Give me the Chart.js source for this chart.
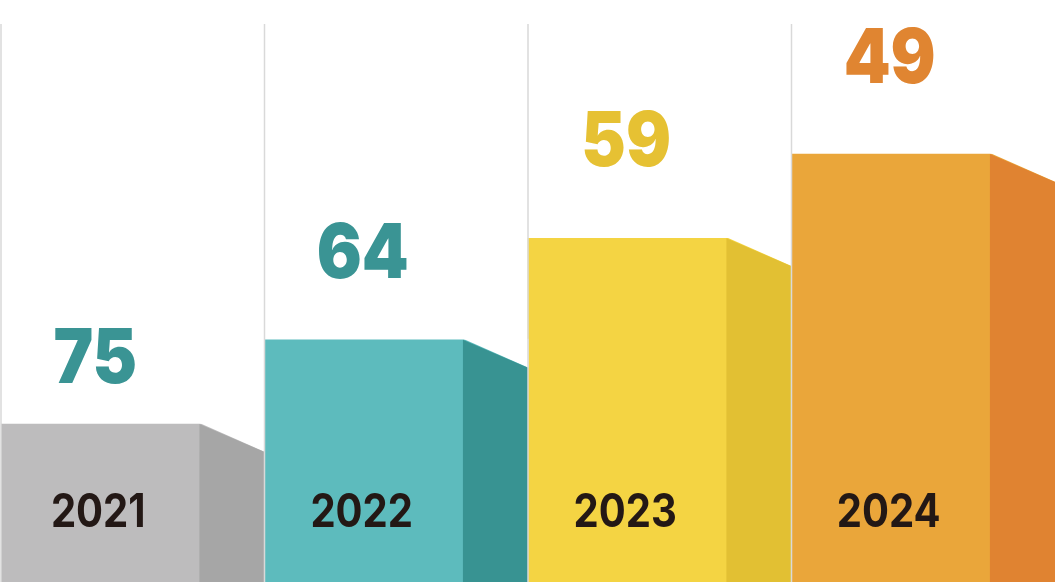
<!DOCTYPE html>
<html>
<head>
<meta charset="utf-8">
<script src="https://cdn.jsdelivr.net/npm/chart.js@4.4.0/dist/chart.umd.min.js"></script>
<style>
  html, body { margin: 0; padding: 0; background: #ffffff; }
  #wrap { width: 1055px; height: 582px; position: relative; }
</style>
</head>
<body>
<div id="wrap"><canvas id="c"></canvas></div>
<script>
// ---- data ----
const years = ['2021', '2022', '2023', '2024'];
const values = [75, 64, 59, 49];            // numbers shown above bars
const barHeights = [28.3, 43.4, 61.6, 76.7]; // bar heights on a 0-100 scale
const yMax = 100;

// ---- styles ----
const frontColors = ['#bdbcbd', '#5dbbbd', '#f4d443', '#eaa63a'];
const sideColors  = ['#a6a6a6', '#389392', '#e2c033', '#e08331'];
const valueColors = ['#3a9494', '#3a9494', '#e6c133', '#e08531'];
const valueBaselineGap = [41, 62, 72, 71]; // px between value baseline and bar top
const valueShiftX = [-5, -1, -1, -1];
const yearColor = '#231815';

function drawScaledText(ctx, text, x, y, sx) {
  ctx.save();
  ctx.translate(x, y);
  ctx.scale(sx, 1);
  ctx.fillText(text, 0, 0);
  ctx.restore();
}

const bar3d = {
  id: 'bar3d',
  afterDatasetsDraw(chart) {
    const ctx = chart.ctx;
    const area = chart.chartArea;
    const meta = chart.getDatasetMeta(0);
    ctx.save();
    meta.data.forEach((el, i) => {
      const left = el.x - el.width / 2;
      const right = el.x + el.width / 2;
      const frontRight = left + el.width * 0.753;
      const top = el.y;
      const base = el.base;
      const drop = 28;
      // white-out the triangle above the slanted side
      ctx.fillStyle = '#ffffff';
      ctx.beginPath();
      ctx.moveTo(frontRight, top - 1);
      ctx.lineTo(right + 0.5, top - 1);
      ctx.lineTo(right + 0.5, top + drop);
      ctx.closePath();
      ctx.fill();
      // side face
      ctx.fillStyle = sideColors[i];
      ctx.beginPath();
      ctx.moveTo(frontRight, top);
      ctx.lineTo(right, top + drop);
      ctx.lineTo(right, base);
      ctx.lineTo(frontRight, base);
      ctx.closePath();
      ctx.fill();
      const cx = (left + frontRight) / 2;
      ctx.textAlign = 'center';
      ctx.textBaseline = 'alphabetic';
      // value label
      ctx.fillStyle = valueColors[i];
      ctx.font = '900 76px Inter, "Open Sans", sans-serif';
      drawScaledText(ctx, String(values[i]), cx + valueShiftX[i], top - valueBaselineGap[i], 0.88);
      // year label
      ctx.fillStyle = yearColor;
      ctx.font = '700 46px Inter, "Open Sans", sans-serif';
      drawScaledText(ctx, years[i], cx - 2, 527, 0.87);
    });
    // vertical separators
    ctx.strokeStyle = '#d9d9d9';
    ctx.lineWidth = 1.5;
    const n = years.length;
    const w = (area.right - area.left) / n;
    for (let i = 0; i < n; i++) {
      const x = area.left + i * w;
      ctx.beginPath();
      ctx.moveTo(x, area.top);
      ctx.lineTo(x, area.bottom);
      ctx.stroke();
    }
    ctx.restore();
  }
};

new Chart(document.getElementById('c'), {
  type: 'bar',
  data: {
    labels: years,
    datasets: [{
      data: barHeights,
      backgroundColor: frontColors,
      borderWidth: 0,
      barPercentage: 1,
      categoryPercentage: 1
    }]
  },
  options: {
    responsive: true,
    maintainAspectRatio: false,
    animation: false,
    devicePixelRatio: 1,
    layout: { padding: { left: 1, right: 0, top: 24, bottom: 0 } },
    plugins: { legend: { display: false }, tooltip: { enabled: false } },
    scales: {
      x: { display: false },
      y: { display: false, min: 0, max: yMax }
    }
  },
  plugins: [bar3d]
});
</script>
</body>
</html>
